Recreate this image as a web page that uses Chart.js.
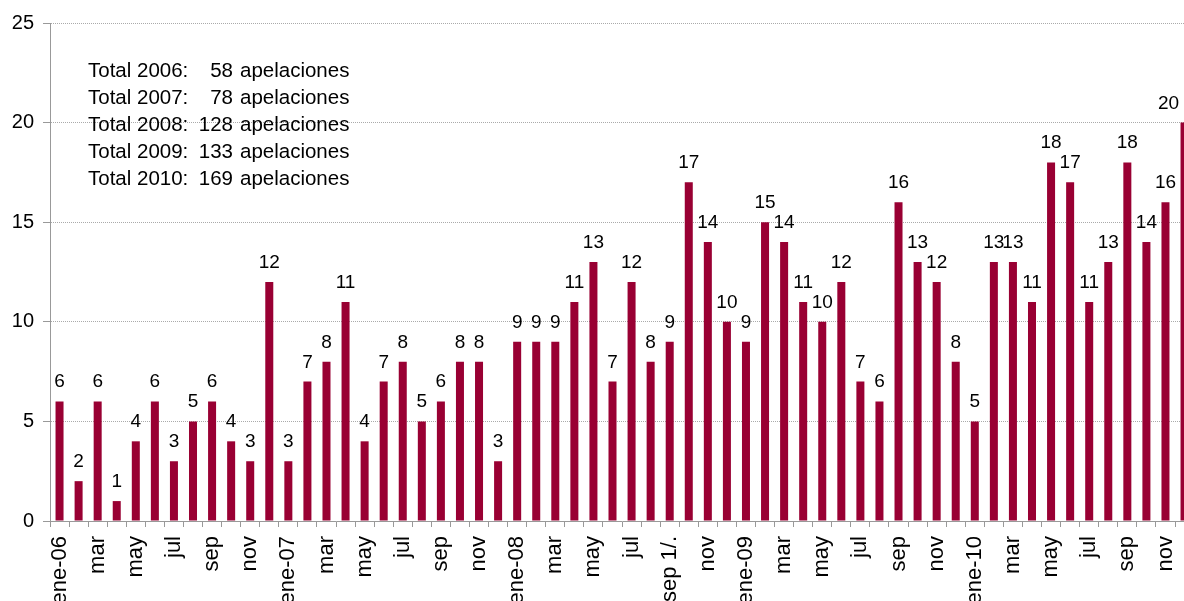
<!DOCTYPE html>
<html>
<head>
<meta charset="utf-8">
<script src="https://cdn.jsdelivr.net/npm/chart.js@4/dist/chart.umd.min.js"></script>
<style>
  html, body { margin: 0; padding: 0; background: #fff; overflow: hidden; }
  #wrap { position: relative; width: 1220px; height: 601px; }
</style>
</head>
<body>
<div id="wrap"><canvas id="barChart"></canvas></div>
<script>
// meses (se muestra uno de cada dos)
const categories = [
  'ene-06','feb','mar','abr','may','jun','jul','ago','sep','oct','nov','dic',
  'ene-07','feb','mar','abr','may','jun','jul','ago','sep','oct','nov','dic',
  'ene-08','feb','mar','abr','may','jun','jul','ago','sep 1/.','oct','nov','dic',
  'ene-09','feb','mar','abr','may','jun','jul','ago','sep','oct','nov','dic',
  'ene-10','feb','mar','abr','may','jun','jul','ago','sep','oct','nov','dic'
];

const v2006 = [6, 2, 6, 1, 4, 6, 3, 5, 6, 4, 3, 12];
const v2007 = [3, 7, 8, 11, 4, 7, 8, 5, 6, 8, 8, 3];
const v2008 = [9, 9, 9, 11, 13, 7, 12, 8, 9, 17, 14, 10];
const v2009 = [9, 15, 14, 11, 10, 12, 7, 6, 16, 13, 12, 8];
const v2010 = [5, 13, 13, 11, 18, 17, 11, 13, 18, 14, 16, 20];

const years = ['2006', '2007', '2008', '2009', '2010'];
const totals = [58, 78, 128, 133, 169];

const yTicks = [0, 5, 10, 15, 20, 25];

const values = [].concat(v2006, v2007, v2008, v2009, v2010);

const FONT = 'Arial, "Liberation Sans", sans-serif';

// etiquetas de valor encima de cada barra
const valueLabels = {
  id: 'valueLabels',
  afterDatasetsDraw(chart) {
    const ctx = chart.ctx;
    const meta = chart.getDatasetMeta(0);
    ctx.save();
    ctx.font = '19px ' + FONT;
    ctx.fillStyle = '#000';
    ctx.textAlign = 'center';
    ctx.textBaseline = 'alphabetic';
    meta.data.forEach(function(bar, i) {
      const txt = String(values[i]);
      const w = ctx.measureText(txt).width;
      let x = bar.x;
      const maxRight = chart.chartArea.right - 15;
      if (x + w / 2 > maxRight) x = maxRight - w / 2;
      ctx.fillText(txt, x, bar.y - 14);
    });
    ctx.restore();
  }
};

// cuadro de totales
const totalsBox = {
  id: 'totalsBox',
  afterDraw(chart) {
    const ctx = chart.ctx;
    ctx.save();
    ctx.font = '20.5px ' + FONT;
    ctx.fillStyle = '#000';
    ctx.textBaseline = 'alphabetic';
    years.forEach(function(y, i) {
      const base = 77 + i * 27;
      ctx.textAlign = 'left';
      ctx.fillText('Total ' + y + ':', 88, base);
      ctx.textAlign = 'right';
      ctx.fillText(String(totals[i]), 233, base);
      ctx.textAlign = 'left';
      ctx.fillText('apelaciones', 240, base);
    });
    ctx.restore();
  }
};

const ctx = document.getElementById('barChart').getContext('2d');
new Chart(ctx, {
  type: 'bar',
  data: {
    labels: categories,
    datasets: [{
      data: values,
      backgroundColor: '#990033',
      borderWidth: 0,
      barPercentage: 0.42,
      categoryPercentage: 1.0
    }]
  },
  options: {
    responsive: true,
    maintainAspectRatio: false,
    animation: false,
    layout: { padding: { top: 23, right: 7, left: 0, bottom: 0 } },
    plugins: {
      legend: { display: false },
      tooltip: { enabled: false }
    },
    scales: {
      x: {
        afterFit: function(s) { s.height = 80; },
        grid: {
          offset: true,
          drawOnChartArea: false,
          drawTicks: true,
          tickLength: 6,
          color: '#999'
        },
        border: { color: '#999', width: 1 },
        ticks: {
          autoSkip: false,
          maxRotation: 90,
          minRotation: 90,
          padding: 9,
          color: '#000',
          font: { family: FONT, size: 22 },
          callback: function(value, index) {
            return index % 2 === 0 ? this.getLabelForValue(value) : '';
          }
        }
      },
      y: {
        min: 0,
        max: 25,
        afterFit: function(s) { s.width = 50; },
        afterBuildTicks: function(s) {
          s.ticks = yTicks.map(function(v) { return { value: v }; });
        },
        grid: {
          color: '#aaa',
          tickLength: 7,
          tickColor: '#999',
          tickBorderDash: [],
          lineWidth: 1
        },
        border: { color: '#999', width: 1, dash: [1, 1] },
        ticks: {
          padding: 9,
          color: '#000',
          font: { family: FONT, size: 20 }
        }
      }
    }
  },
  plugins: [valueLabels, totalsBox]
});
</script>
</body>
</html>
